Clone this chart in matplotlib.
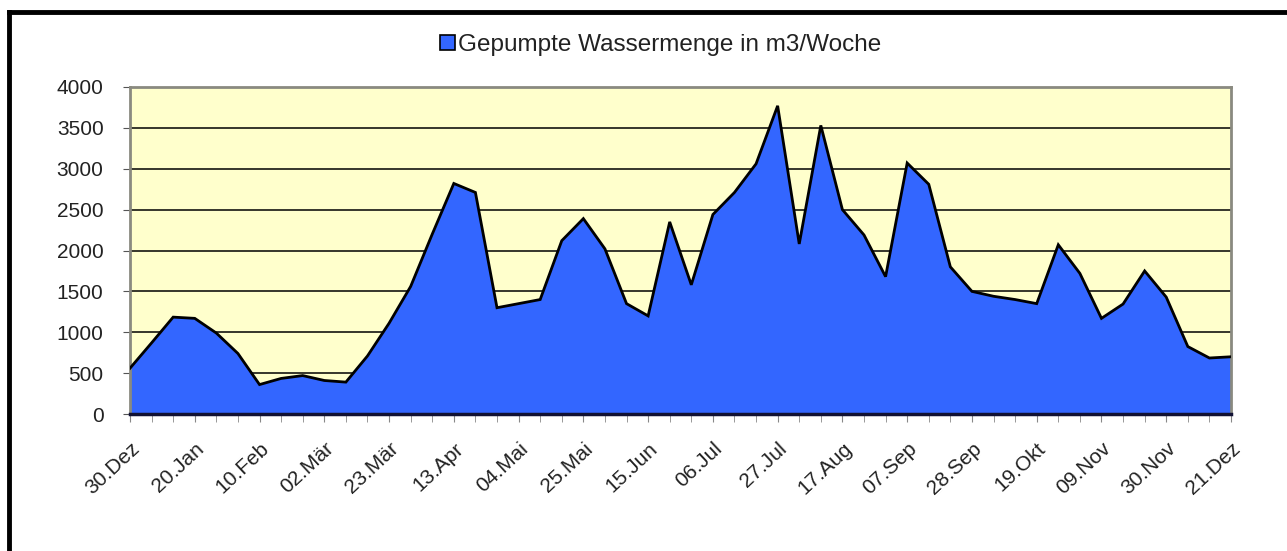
import numpy as np
import matplotlib
import matplotlib.pyplot as plt
from matplotlib.patches import Patch
from matplotlib.lines import Line2D
from matplotlib.transforms import ScaledTranslation

plt.rcParams['font.family'] = ['Liberation Sans', 'DejaVu Sans']

# weekly pumped water, m3 per week (30.Dez ... 21.Dez)
wasser = [560, 870, 1185, 1170, 990, 740, 360, 435, 470, 410,
          390, 710, 1110, 1560, 2200, 2820, 2710, 1300, 1350, 1400,
          2120, 2390, 2020, 1350, 1200, 2350, 1580, 2440, 2710, 3060,
          3770, 2080, 3530, 2500, 2190, 1680, 3070, 2810, 1800, 1500,
          1440, 1400, 1350, 2070, 1720, 1170, 1345, 1750, 1430, 825,
          685, 700]
tick_labels = ['30.Dez', '20.Jan', '10.Feb', '02.Mär', '23.Mär', '13.Apr',
               '04.Mai', '25.Mai', '15.Jun', '06.Jul', '27.Jul', '17.Aug',
               '07.Sep', '28.Sep', '19.Okt', '09.Nov', '30.Nov', '21.Dez']
label_step = 3
legend_text = 'Gepumpte Wassermenge in m3/Woche'

W, H = 1287, 551
fig = plt.figure(figsize=(W / 100, H / 100), dpi=100)
fig.patch.set_facecolor('white')
ax = fig.add_axes([130 / W, 1 - 414 / H, (1231 - 130) / W, (414 - 87) / H])
ax.set_facecolor('#FFFFCC')

weeks = np.arange(len(wasser))
ax.fill_between(weeks, wasser, 0, color='#3366FF', zorder=2, linewidth=0)
ax.plot(weeks, wasser, color='black', lw=2, zorder=3, solid_joinstyle='miter')

ax.set_xlim(0, len(wasser) - 1)
ax.set_ylim(0, 4000)
ax.set_yticks(np.arange(0, 4001, 500))
ax.yaxis.grid(True, color='black', lw=1.1, zorder=1)
ax.set_axisbelow(True)

ax.set_xticks(weeks, minor=True)
ax.set_xticks(weeks[::label_step])
ax.set_xticklabels(tick_labels, rotation=43, ha='right', va='top',
                   rotation_mode='anchor', fontsize=15, color='#222222')
shift = ScaledTranslation(7 / 100, 0, fig.dpi_scale_trans)
for lbl in ax.get_xticklabels():
    lbl.set_transform(lbl.get_transform() + shift)
ax.tick_params(axis='x', which='both', length=6, color='#888888', pad=12)
ax.tick_params(axis='y', length=5, color='#555555', labelsize=15,
               labelcolor='#222222', pad=14)

for s in ['top', 'right', 'left']:
    ax.spines[s].set_color('#8a8a80')
    ax.spines[s].set_linewidth(2)
ax.spines['bottom'].set_color('#111133')
ax.spines['bottom'].set_linewidth(2.5)
ax.spines['bottom'].set_zorder(4)

handle = Patch(facecolor='#3366FF', edgecolor='black', linewidth=1.2)
fig.legend([handle], [legend_text], loc='center', bbox_to_anchor=(661 / W, 1 - 45 / H),
           frameon=False, fontsize=17.5, handlelength=0.6, handleheight=0.6,
           handletextpad=0.15, labelcolor='#222222')

# black frame on top and left edge
fig.add_artist(Line2D([9 / W, 1], [1 - 12 / H, 1 - 12 / H], color='black', lw=3.5,
                      transform=fig.transFigure))
fig.add_artist(Line2D([9 / W, 9 / W], [0, 1 - 12 / H], color='black', lw=3.5,
                      transform=fig.transFigure))

fig.savefig('out.png', dpi=100, facecolor='white')
